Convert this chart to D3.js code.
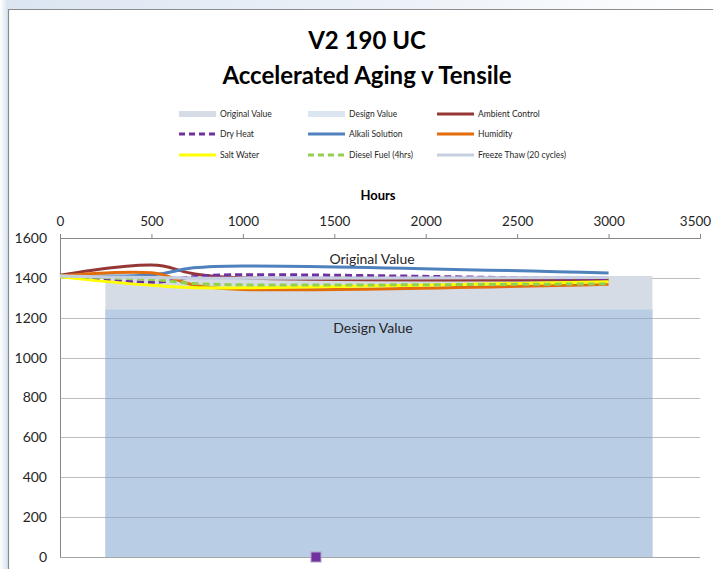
<!DOCTYPE html>
<html>
<head>
<meta charset="utf-8">
<script src="https://cdn.jsdelivr.net/npm/d3@7"></script>
<style>
  html, body { margin: 0; padding: 0; background: #fff; }
  svg { display: block; font-family: Lato, "Open Sans", "Liberation Sans", sans-serif; }
</style>
</head>
<body>
<svg id="chart" width="713" height="569"></svg>
<script>
// ---- data ----
const hours = [0, 500, 1000, 3000];
const ambientControl = [1413, 1465, 1400, 1390];
const dryHeat = [1410, 1378, 1416, 1393];
const alkaliSolution = [1410, 1415, 1460, 1424];
const humidity = [1410, 1426, 1342, 1368];
const saltWater = [1405, 1363, 1350, 1380];
const dieselFuel = [1410, 1392, 1365, 1370];
const freezeThaw = [1410, 1402, 1398, 1402];

const areaHours = [248, 3240];
const originalValue = [1410, 1410];
const designValue = [1242, 1242];

const markerHours = [1400];
const markerValues = [0];

const xTicks = [0, 500, 1000, 1500, 2000, 2500, 3000, 3500];
const yTicks = [0, 200, 400, 600, 800, 1000, 1200, 1400, 1600];

const titleLines = ["V2 190 UC", "Accelerated Aging v Tensile"];
const xAxisTitle = "Hours";

const legendNames = ["Original Value", "Design Value", "Ambient Control",
  "Dry Heat", "Alkali Solution", "Humidity",
  "Salt Water", "Diesel Fuel (4hrs)", "Freeze Thaw (20 cycles)"];

// ---- drawing ----
const svg = d3.select("#chart");
const W = 713, H = 569;

const defs = svg.append("defs");
const gL = defs.append("linearGradient").attr("id", "bgL").attr("x1", 0).attr("x2", 1).attr("y1", 0).attr("y2", 0);
gL.append("stop").attr("offset", "0%").attr("stop-color", "#ffffff");
gL.append("stop").attr("offset", "100%").attr("stop-color", "#d6e2ef");
const gT = defs.append("linearGradient").attr("id", "bgT").attr("x1", 0).attr("x2", 1).attr("y1", 0).attr("y2", 0);
gT.append("stop").attr("offset", "0%").attr("stop-color", "#dbe5f1");
gT.append("stop").attr("offset", "60%").attr("stop-color", "#eef3f9");
gT.append("stop").attr("offset", "100%").attr("stop-color", "#ffffff");

svg.append("rect").attr("x", 0).attr("y", 0).attr("width", W).attr("height", 9).attr("fill", "url(#bgT)");
svg.append("rect").attr("x", 0).attr("y", 0).attr("width", 8).attr("height", H).attr("fill", "url(#bgL)");
svg.append("rect").attr("x", 8).attr("y", 9).attr("width", W - 8).attr("height", H - 9).attr("fill", "#ffffff");
svg.append("line").attr("x1", 8.5).attr("x2", 8.5).attr("y1", 9).attr("y2", H).attr("stroke", "#8c8c8c").attr("stroke-width", 1.2);
svg.append("line").attr("x1", 8).attr("x2", W).attr("y1", 9.5).attr("y2", 9.5).attr("stroke", "#8c8c8c").attr("stroke-width", 1.2);

// title
svg.append("g").selectAll("text").data(titleLines).join("text")
  .attr("x", 367).attr("y", (d, i) => 49 + i * 35)
  .attr("text-anchor", "middle")
  .attr("font-size", 24).attr("font-weight", "bold").attr("fill", "#000")
  .text(d => d);

// scales
const x = d3.scaleLinear().domain([0, 3500]).range([60, 700]);
const y = d3.scaleLinear().domain([0, 1600]).range([557, 238]);

// gridlines
svg.append("g").selectAll("line").data(yTicks.filter(v => v > 0)).join("line")
  .attr("x1", x(0)).attr("x2", x(3500))
  .attr("y1", d => Math.round(y(d)) + 0.5).attr("y2", d => Math.round(y(d)) + 0.5)
  .attr("stroke", "#bdbdbd").attr("stroke-width", 1);

// areas
const area = d3.area().x(d => x(d[0])).y0(y(0)).y1(d => y(d[1]));
svg.append("path").datum(areaHours.map((h, i) => [h, originalValue[i]]))
  .attr("d", area).attr("fill", "#d6dce5");
svg.append("path").datum(areaHours.map((h, i) => [h, designValue[i]]))
  .attr("d", area).attr("fill", "#b9cde5");

// gridlines seen through the areas
svg.append("g").selectAll("line").data(yTicks.filter(v => v > 0 && v < 1400)).join("line")
  .attr("x1", x(areaHours[0])).attr("x2", x(areaHours[1]))
  .attr("y1", d => Math.round(y(d)) + 0.5).attr("y2", d => Math.round(y(d)) + 0.5)
  .attr("stroke", "#9fb0c6").attr("stroke-width", 1);

// area labels
svg.append("text").attr("x", 372).attr("y", 264).attr("text-anchor", "middle")
  .attr("font-size", 14).attr("fill", "#262626").text("Original Value");
svg.append("text").attr("x", 373).attr("y", 333).attr("text-anchor", "middle")
  .attr("font-size", 14).attr("fill", "#262626").text("Design Value");

// axes
const fmt = d3.format("d");
const yAxis = d3.axisLeft(y).tickValues(yTicks).tickSize(0).tickPadding(13).tickFormat(fmt);
const gy = svg.append("g").attr("transform", `translate(${x(0)},0)`).call(yAxis);
gy.select(".domain").attr("stroke", "#868686");
gy.selectAll("text").attr("font-size", 14).attr("fill", "#262626").attr("font-family", "Lato, sans-serif");

const xAxis = d3.axisTop(x).tickValues(xTicks).tickSize(4).tickPadding(8).tickSizeOuter(4).tickFormat(fmt);
const gx = svg.append("g").attr("transform", `translate(0,${y(1600)})`).call(xAxis);
gx.select(".domain").attr("stroke", "#868686");
gx.selectAll(".tick line").attr("stroke", "#868686");
gx.selectAll("text").attr("font-size", 13.5).attr("fill", "#262626").attr("font-family", "Lato, sans-serif")
  .attr("dx", d => d === 3500 ? -5 : 0);

// bottom axis line
svg.append("line").attr("x1", x(0)).attr("x2", x(3500)).attr("y1", y(0) + 0.5).attr("y2", y(0) + 0.5)
  .attr("stroke", "#a6a6a6");

svg.append("text").attr("x", 378).attr("y", 200).attr("text-anchor", "middle")
  .attr("font-size", 13).attr("font-weight", "bold").attr("fill", "#000").text(xAxisTitle);

// lines
const series = [
  { values: ambientControl, color: "#953735", dash: null },
  { values: dryHeat, color: "#7030a0", dash: "7,4" },
  { values: alkaliSolution, color: "#4f81bd", dash: null },
  { values: humidity, color: "#e46c0a", dash: null },
  { values: saltWater, color: "#ffff00", dash: null },
  { values: dieselFuel, color: "#92d050", dash: "7,4" },
  { values: freezeThaw, color: "#c6cfe0", dash: null }
];
const line = d3.line().x(d => x(d[0])).y(d => y(d[1])).curve(d3.curveCardinal.tension(0));
svg.append("g").selectAll("path").data(series).join("path")
  .attr("d", s => line(hours.map((h, i) => [h, s.values[i]])))
  .attr("fill", "none").attr("stroke", s => s.color).attr("stroke-width", 3)
  .attr("stroke-dasharray", s => s.dash);

// stray marker
svg.append("g").selectAll("rect").data(markerHours.map((h, i) => [h, markerValues[i]])).join("rect")
  .attr("x", d => x(d[0]) - 5).attr("y", d => y(d[1]) - 5).attr("width", 10).attr("height", 10)
  .attr("fill", "#7030a0").attr("stroke", "#b3a2c7").attr("stroke-width", 1);

// legend
const legendStyles = [
  { color: "#d6dce5", dash: null, w: 6 },
  { color: "#dce6f2", dash: null, w: 6 },
  { color: "#953735", dash: null, w: 3 },
  { color: "#7030a0", dash: "6,4", w: 3 },
  { color: "#4f81bd", dash: null, w: 3 },
  { color: "#e46c0a", dash: null, w: 3 },
  { color: "#ffff00", dash: null, w: 3 },
  { color: "#92d050", dash: "6,4", w: 3 },
  { color: "#c6cfe0", dash: null, w: 3 }
];
const colX = [179, 308, 437];
const rowY = [114, 134, 155];
const lg = svg.append("g").selectAll("g").data(legendNames).join("g")
  .attr("transform", (d, i) => `translate(${colX[i % 3]},${rowY[Math.floor(i / 3)]})`);
lg.append("line").attr("x1", 0).attr("x2", 37).attr("y1", 0).attr("y2", 0)
  .attr("stroke", (d, i) => legendStyles[i].color)
  .attr("stroke-width", (d, i) => legendStyles[i].w)
  .attr("stroke-dasharray", (d, i) => legendStyles[i].dash);
lg.append("text").attr("x", 41).attr("y", 3).attr("font-size", 8.5).attr("fill", "#262626").text(d => d);
</script>
</body>
</html>
